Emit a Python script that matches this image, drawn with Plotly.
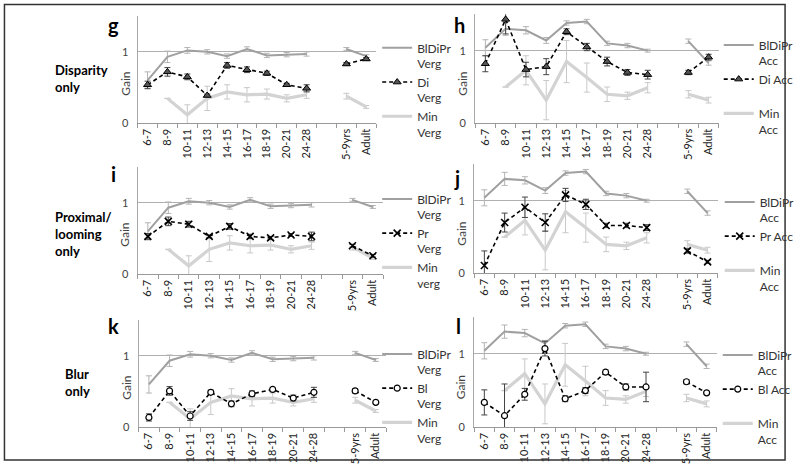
import plotly.graph_objects as go

W, H = 800, 472

cats = ["6-7", "8-9", "10-11", "12-13", "14-15", "16-17", "18-19", "20-21", "24-28", " ", "5-9yrs", "Adult"]

# Vergence (shared by g, i, k)
blpr_verg = [0.60, 0.93, 1.02, 1.00, 0.94, 1.04, 0.95, 0.96, 0.97, None, 1.04, 0.94]
blpr_verg_err = [0.12, 0.08, 0.04, 0.03, 0.03, 0.03, 0.03, 0.03, 0.03, None, 0.02, 0.02]
min_verg = [None, 0.35, 0.12, 0.35, 0.44, 0.40, 0.41, 0.35, 0.40, None, 0.38, 0.23]
min_verg_err = [None, 0, 0.14, 0.17, 0.10, 0.10, 0.07, 0.05, 0.05, None, 0.04, 0.02]
di_verg = [0.54, 0.72, 0.65, 0.39, 0.81, 0.75, 0.70, 0.54, 0.49, None, 0.83, 0.90]
di_verg_err = [0.05, 0.06, 0.04, 0.02, 0.04, 0.04, 0.03, 0.02, 0.05, None, 0.02, 0.02]
pr_verg = [0.53, 0.74, 0.70, 0.53, 0.67, 0.53, 0.51, 0.55, 0.53, None, 0.40, 0.26]
pr_verg_err = [0.04, 0.06, 0.04, 0.02, 0.04, 0.03, 0.02, 0.02, 0.06, None, 0.02, 0.02]
bl_verg = [0.14, 0.51, 0.16, 0.49, 0.33, 0.47, 0.53, 0.41, 0.49, None, 0.51, 0.35]
bl_verg_err = [0.05, 0.06, 0.06, 0.03, 0.04, 0.04, 0.03, 0.04, 0.07, None, 0.03, 0.02]

# Accommodation (shared by h, j, l)
blpr_acc = [1.04, 1.30, 1.28, 1.14, 1.38, 1.40, 1.10, 1.07, 1.00, None, 1.13, 0.83]
blpr_acc_err = [0.11, 0.09, 0.05, 0.04, 0.03, 0.03, 0.03, 0.03, 0.02, None, 0.03, 0.03]
min_acc = [None, 0.50, 0.73, 0.32, 0.85, 0.63, 0.40, 0.38, 0.49, None, 0.40, 0.32]
min_acc_err = [None, 0, 0.20, 0.27, 0.29, 0.20, 0.10, 0.05, 0.07, None, 0.05, 0.04]
di_acc = [0.82, 1.43, 0.74, 0.78, 1.26, 1.05, 0.85, 0.70, 0.67, None, 0.70, 0.91]
di_acc_err = [0.11, 0.20, 0.10, 0.11, 0.04, 0.05, 0.06, 0.04, 0.06, None, 0.03, 0.04]
pr_acc = [0.11, 0.70, 0.91, 0.70, 1.08, 0.95, 0.66, 0.66, 0.63, None, 0.31, 0.16]
pr_acc_err = [0.20, 0.13, 0.14, 0.12, 0.09, 0.07, 0.03, 0.03, 0.04, None, 0.03, 0.02]
bl_acc = [0.34, 0.16, 0.45, 1.07, 0.39, 0.50, 0.75, 0.55, 0.55, None, 0.62, 0.47]
bl_acc_err = [0.17, 0.43, 0.08, 0.10, 0.04, 0.04, 0.03, 0.04, 0.20, None, 0.03, 0.02]

FONT = "Lato"

panels = [
    dict(letter="g", xd=(139, 380), y0=125, y1=52.5, leg=(381, 34),
         full=("BlDiPr<br>Verg", blpr_verg, blpr_verg_err),
         cue=("Di<br>Verg", di_verg, di_verg_err, "triangle-up"),
         mn=("Min<br>Verg", min_verg, min_verg_err), lab=(115, 25)),
    dict(letter="h", xd=(480, 726), y0=125, y1=51.3, leg=(726, 31),
         full=("BlDiPr<br>Acc", blpr_acc, blpr_acc_err),
         cue=("Di Acc<br> ", di_acc, di_acc_err, "triangle-up"),
         mn=("Min<br>Acc", min_acc, min_acc_err), lab=(464, 25)),
    dict(letter="i", xd=(139, 387), y0=278, y1=205.3, leg=(381, 187),
         full=("BlDiPr<br>Verg", blpr_verg, blpr_verg_err),
         cue=("Pr<br>Verg", pr_verg, pr_verg_err, "x-thin"),
         mn=("Min<br>verg", min_verg, min_verg_err), lab=(115, 176)),
    dict(letter="j", xd=(479, 725), y0=277, y1=203.3, leg=(727, 190),
         full=("BlDiPr<br>Acc", blpr_acc, blpr_acc_err),
         cue=("Pr Acc<br> ", pr_acc, pr_acc_err, "x-thin"),
         mn=("Min<br>Acc", min_acc, min_acc_err), lab=(462, 180)),
    dict(letter="k", xd=(140, 390), y0=433, y1=360.3, leg=(381, 344),
         full=("BlDiPr<br>Verg", blpr_verg, blpr_verg_err),
         cue=("Bl<br>Verg", bl_verg, bl_verg_err, "circle"),
         mn=("Min<br>Verg", min_verg, min_verg_err), lab=(115, 330)),
    dict(letter="l", xd=(479, 724), y0=433, y1=358.3, leg=(725, 345),
         full=("BlDiPr<br>Acc", blpr_acc, blpr_acc_err),
         cue=("Bl Acc<br> ", bl_acc, bl_acc_err, "circle"),
         mn=("Min<br>Acc", min_acc, min_acc_err), lab=(463, 330)),
]

fig = go.Figure()
layout = {}
annotations = []

for i, p in enumerate(panels):
    n = "" if i == 0 else str(i + 1)
    xa, ya = "x" + n, "y" + n
    leg = "legend" + n
    unit = p["y0"] - p["y1"]
    ytop = p["y0"] - 1.5 * unit

    name, vals, err = p["mn"]
    fig.add_trace(go.Scatter(
        x=cats, y=vals, name=name, mode="lines", xaxis=xa, yaxis=ya, legend=leg,
        legendrank=3, connectgaps=False,
        line=dict(color="#d3d3d3", width=3.2),
        error_y=dict(type="data", array=err, color="#c8c8c8", thickness=1, width=3),
    ))
    name, vals, err = p["full"]
    fig.add_trace(go.Scatter(
        x=cats, y=vals, name=name, mode="lines", xaxis=xa, yaxis=ya, legend=leg,
        legendrank=1, connectgaps=False,
        line=dict(color="#a0a0a0", width=2),
        error_y=dict(type="data", array=err, color="#b4b4b4", thickness=1, width=3),
    ))
    name, vals, err, sym = p["cue"]
    if sym == "circle":
        mk = dict(symbol="circle", size=6, color="white", line=dict(color="black", width=1.2))
    elif sym == "x-thin":
        mk = dict(symbol="x-thin", size=7, color="black", line=dict(color="black", width=1.6))
    else:
        mk = dict(symbol="triangle-up", size=7, color="#555555", line=dict(color="black", width=1))
    fig.add_trace(go.Scatter(
        x=cats, y=vals, name=name, mode="lines+markers", xaxis=xa, yaxis=ya, legend=leg,
        legendrank=2, connectgaps=False,
        line=dict(color="black", width=1.6, dash="4px,3px"),
        marker=mk,
        error_y=dict(type="data", array=err, color="#444444", thickness=1, width=3),
    ))

    layout["xaxis" + n] = dict(
        domain=[p["xd"][0] / W, p["xd"][1] / W], anchor=ya,
        type="category", categoryorder="array", categoryarray=cats,
        range=[-0.5, len(cats) - 0.5], tickson="boundaries",
        ticks="outside", ticklen=4, tickcolor="#999999",
        showline=True, linecolor="#999999", linewidth=1,
        showgrid=False, zeroline=False, tickangle=-90,
        tickfont=dict(family=FONT, size=11, color="#222222"),
    )
    layout["yaxis" + n] = dict(
        domain=[(H - p["y0"]) / H, (H - ytop) / H], anchor=xa,
        range=[0, 1.5], tickvals=[0, 1], ticktext=["0", "1"],
        showline=True, linecolor="#a8a8a8", linewidth=1,
        showgrid=True, gridcolor="#b0b0b0", gridwidth=1, zeroline=False,
        ticks="", ticklabelstandoff=6,
        tickfont=dict(family=FONT, size=11, color="#444444"),
    )
    layout[leg] = dict(
        x=p["leg"][0] / W, y=(H - p["leg"][1]) / H, xanchor="left", yanchor="top",
        bgcolor="rgba(0,0,0,0)", borderwidth=0, valign="top",
        font=dict(family=FONT, size=12, color="#333333"),
        tracegroupgap=0, itemwidth=30,
    )
    annotations.append(dict(
        text="<b>%s</b>" % p["letter"], x=p["lab"][0] / W, y=(H - p["lab"][1]) / H,
        xref="paper", yref="paper", showarrow=False, xanchor="center", yanchor="middle",
        font=dict(family=FONT, size=20, color="black"),
    ))
    annotations.append(dict(
        text="Gain", x=(p["xd"][0] - 13) / W, y=(H - (p["y0"] - 0.55 * unit)) / H,
        xref="paper", yref="paper", showarrow=False, textangle=-90,
        xanchor="center", yanchor="middle",
        font=dict(family=FONT, size=12, color="#444444"),
    ))

row_labels = [("Disparity<br>only", 54, 80), ("Proximal/<br>looming<br>only", 54, 237), ("Blur<br>only", 64, 387)]
for txt, x, y in row_labels:
    annotations.append(dict(
        text="<b>%s</b>" % txt, x=x / W, y=(H - y) / H, xref="paper", yref="paper",
        showarrow=False, xanchor="left", yanchor="middle", align="left",
        font=dict(family=FONT, size=13, color="black"),
    ))

fig.update_layout(
    width=W, height=H, margin=dict(l=0, r=0, t=0, b=0),
    paper_bgcolor="white", plot_bgcolor="white",
    showlegend=True, annotations=annotations, hovermode=False,
    shapes=[dict(type="rect", xref="paper", yref="paper",
                 x0=4.5 / W, x1=793 / W, y0=(H - 466) / H, y1=(H - 4.5) / H,
                 line=dict(color="#333333", width=1.5))],
    **layout,
)

fig.write_html(
    "out.html",
    config={"displayModeBar": False},
    post_script="document.body.style.margin='0';document.body.style.overflow='hidden';",
)
